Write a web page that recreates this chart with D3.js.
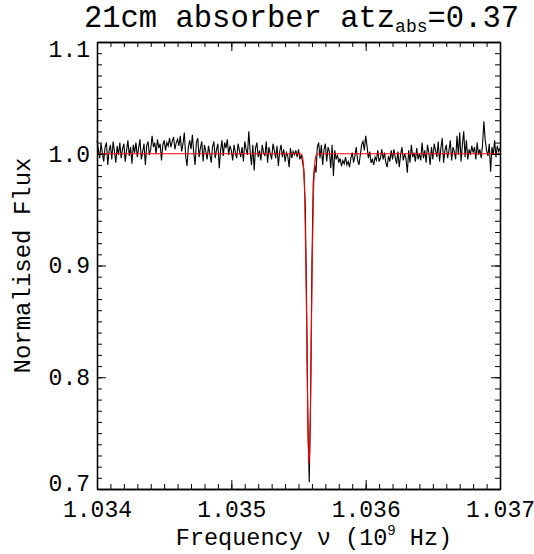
<!DOCTYPE html>
<html>
<head>
<meta charset="utf-8">
<script src="https://cdn.jsdelivr.net/npm/d3@7"></script>
<style>
  body { margin: 0; background: #fff; }
  text { font-family: "Liberation Mono", "Courier New", monospace; fill: #000; }
</style>
</head>
<body>
<div id="chart"></div>
<script>
// spectrum: channel start + width (GHz), flux per channel
var freqStart = 1.034, chanWidth = 0.00001;
var flux = [
  1.012, 1.004, 0.996, 1.009, 1.001, 0.993, 1.006, 1.010, 0.990, 1.003,
  1.008, 0.995, 1.011, 1.002, 0.992, 1.007, 0.999, 1.010, 0.996, 1.004,
  1.009, 0.993, 1.003, 1.012, 0.998, 1.006, 0.991, 1.008, 1.001, 1.010,
  0.997, 1.005, 1.013, 0.995, 1.002, 1.009, 0.990, 1.007, 1.011, 0.999,
  1.004, 1.016, 1.006, 1.010, 1.000, 1.013, 1.005, 1.009, 0.994, 1.008,
  1.012, 1.003, 1.010, 1.007, 1.014, 1.006, 1.011, 1.015, 1.004, 1.010,
  1.013, 1.007, 1.016, 1.002, 1.009, 1.019, 0.998, 0.989, 1.006, 1.012,
  1.004, 1.017, 1.001, 0.990, 1.010, 1.014, 0.997, 1.005, 1.011, 0.993,
  1.008, 1.002, 0.995, 1.007, 1.000, 0.992, 1.006, 1.011, 0.996, 1.004,
  1.009, 0.987, 1.003, 1.012, 0.998, 1.010, 1.005, 1.013, 0.999, 1.007,
  1.003, 0.994, 1.008, 1.001, 0.996, 1.009, 1.003, 0.997, 1.006, 0.993,
  1.011, 1.004, 0.999, 1.020, 1.002, 0.990, 1.008, 0.985, 1.005, 1.010,
  0.997, 1.003, 0.994, 1.008, 1.001, 0.998, 1.011, 0.992, 1.006, 1.000,
  0.995, 1.009, 1.003, 0.996, 1.007, 0.989, 1.002, 1.008, 0.997, 1.004,
  0.993, 1.001, 0.998, 0.988, 1.005, 0.996, 1.002, 0.999, 1.003, 0.997,
  1.004, 0.995, 0.999, 0.993, 0.985, 0.955, 0.870, 0.760, 0.706, 0.780,
  0.900, 0.975, 0.990, 0.983, 1.006, 1.010, 0.996, 1.008, 0.990, 1.004,
  1.009, 0.993, 1.006, 1.002, 0.987, 1.008, 0.980, 1.003, 0.995, 0.999,
  0.992, 0.996, 0.989, 0.994, 0.991, 0.997, 0.990, 0.993, 0.988, 0.996,
  1.001, 0.992, 0.998, 1.006, 0.994, 0.990, 0.999, 1.008, 1.011, 1.003,
  1.016, 1.007, 0.996, 1.002, 0.992, 0.995, 0.990, 0.997, 0.994, 1.003,
  0.993, 0.996, 1.004, 0.995, 1.001, 0.992, 0.988, 0.998, 0.993, 1.003,
  0.995, 1.004, 0.997, 0.991, 1.002, 0.988, 0.999, 1.006, 0.994, 1.000,
  0.996, 0.983, 1.003, 0.992, 1.008, 0.997, 1.001, 0.993, 1.005, 0.995,
  1.000, 0.994, 1.010, 0.996, 1.003, 0.992, 1.008, 1.001, 0.990, 1.006,
  0.995, 1.009, 1.003, 0.997, 1.011, 0.993, 1.005, 1.014, 0.992, 1.003,
  1.008, 0.996, 1.003, 1.012, 0.994, 1.006, 1.002, 0.995, 1.016, 0.999,
  1.019, 0.993, 1.008, 1.020, 0.997, 1.012, 0.995, 1.004, 0.999, 1.007,
  1.001, 1.006, 0.995, 1.010, 0.999, 1.004, 0.996, 1.008, 1.029, 1.012,
  1.003, 0.998, 1.009, 0.984, 1.006, 0.999, 1.012, 0.997, 1.007, 1.002,
  1.005
];

// fitted model (red)
var modelFreq = [1.034, 1.035514, 1.035522, 1.035530, 1.035538, 1.035546, 1.035554, 1.035562, 1.035570, 1.0355785,
                 1.035587, 1.035595, 1.035603, 1.035611, 1.035619, 1.035627, 1.035635, 1.035643, 1.037];
var modelFlux = [1.0, 1.0, 0.9994, 0.9969, 0.9878, 0.9624, 0.9097, 0.8314, 0.7547, 0.722,
                 0.7547, 0.8314, 0.9097, 0.9624, 0.9878, 0.9969, 0.9994, 1.0, 1.0];

var xTicks = [1.034, 1.035, 1.036, 1.037];
var yTicks = [0.7, 0.8, 0.9, 1.0, 1.1];

var margin = { top: 42, right: 34, bottom: 65, left: 97 },
  width = 534 - margin.left - margin.right,
  height = 554 - margin.top - margin.bottom;

var svg = d3.select("#chart").append("svg")
  .attr("width", 534)
  .attr("height", 554);

var g = svg.append("g")
  .attr("transform", "translate(" + margin.left + "," + margin.top + ")");

var x = d3.scaleLinear().domain([1.034, 1.037]).range([0, width]);
var y = d3.scaleLinear().domain([0.7, 1.1]).range([height, 0]);

var spectrum = flux.map((f, i) => ({ nu: freqStart + i * chanWidth, f: f }));
var model = modelFreq.map((nu, i) => ({ nu: nu, f: modelFlux[i] }));

var line = d3.line().x(d => x(d.nu)).y(d => y(d.f));

g.append("path")
  .datum(spectrum)
  .attr("fill", "none")
  .attr("stroke", "#000")
  .attr("stroke-width", 1.1)
  .attr("d", line);

g.append("path")
  .datum(model)
  .attr("fill", "none")
  .attr("stroke", "#ff0000")
  .attr("stroke-width", 1.1)
  .attr("d", line.curve(d3.curveMonotoneX));

// axes, ticks inward on all four sides
var xMinor = d3.range(0, 31).map(i => 1.034 + i * 0.0001);
var yMinor = d3.range(0, 41).map(i => 0.7 + i * 0.01);

function styleAxis(sel) {
  sel.select(".domain").attr("stroke", "#000").attr("stroke-width", 1.3);
  sel.selectAll(".tick line").attr("stroke", "#000").attr("stroke-width", 1);
}

g.append("g").attr("transform", "translate(0," + height + ")")
  .call(d3.axisBottom(x).tickValues(xMinor).tickSize(-5).tickFormat("").tickSizeOuter(0)).call(styleAxis);
g.append("g").attr("transform", "translate(0," + height + ")")
  .call(d3.axisBottom(x).tickValues(xTicks).tickSize(-9).tickPadding(12).tickFormat(d3.format(".3f")).tickSizeOuter(0))
  .call(styleAxis)
  .selectAll("text").attr("font-size", 23);

g.append("g")
  .call(d3.axisTop(x).tickValues(xMinor).tickSize(-5).tickFormat("").tickSizeOuter(0)).call(styleAxis);
g.append("g")
  .call(d3.axisTop(x).tickValues(xTicks).tickSize(-9).tickFormat("").tickSizeOuter(0)).call(styleAxis);

g.append("g")
  .call(d3.axisLeft(y).tickValues(yMinor).tickSize(-5).tickFormat("").tickSizeOuter(0)).call(styleAxis);
g.append("g")
  .call(d3.axisLeft(y).tickValues(yTicks).tickSize(-9).tickPadding(7).tickFormat(d3.format(".1f")).tickSizeOuter(0))
  .call(styleAxis)
  .selectAll("text")
  .attr("font-size", 23)
  // end labels sit a little inside the axis range, as in the original
  .attr("dy", d => d === 1.1 ? "0.65em" : d === 0.7 ? "0.05em" : "0.32em");

g.append("g").attr("transform", "translate(" + width + ",0)")
  .call(d3.axisRight(y).tickValues(yMinor).tickSize(-5).tickFormat("").tickSizeOuter(0)).call(styleAxis);
g.append("g").attr("transform", "translate(" + width + ",0)")
  .call(d3.axisRight(y).tickValues(yTicks).tickSize(-9).tickFormat("").tickSizeOuter(0)).call(styleAxis);

g.selectAll(".domain").attr("fill", "none");

// title
var title = svg.append("text")
  .attr("x", margin.left + width / 2 + 3)
  .attr("y", 27)
  .attr("text-anchor", "middle")
  .attr("font-size", 30.5);
title.append("tspan").text("21cm absorber atz");
title.append("tspan").attr("font-size", 18).attr("dy", 5).text("abs");
title.append("tspan").attr("dy", -5).text("=0.37");

// axis titles
var xt = svg.append("text")
  .attr("x", 314)
  .attr("y", 545)
  .attr("text-anchor", "middle")
  .attr("font-size", 23.5);
xt.append("tspan").text("Frequency \u03bd (10");
xt.append("tspan").attr("font-size", 14).attr("dy", -10).text("9");
xt.append("tspan").attr("dy", 10).text(" Hz)");

svg.append("text")
  .attr("transform", "translate(30," + (margin.top + height / 2) + ") rotate(-90)")
  .attr("text-anchor", "middle")
  .attr("font-size", 24)
  .text("Normalised Flux");
</script>
</body>
</html>
